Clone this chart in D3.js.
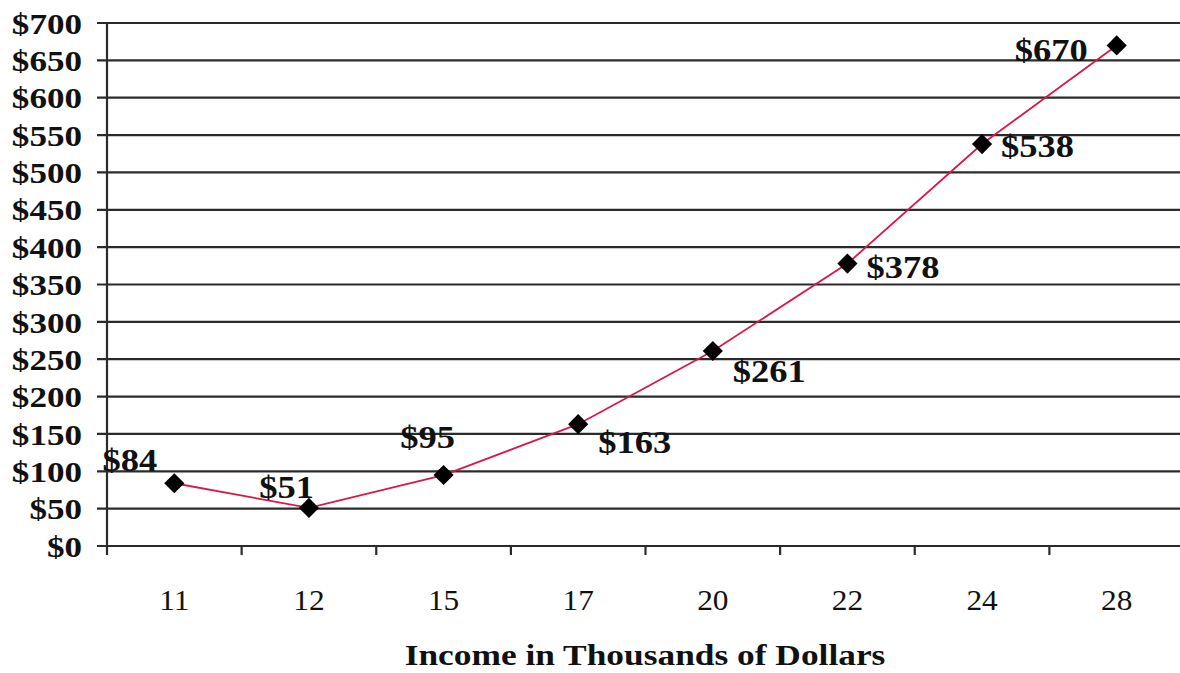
<!DOCTYPE html>
<html>
<head>
<meta charset="utf-8">
<script src="https://cdn.jsdelivr.net/npm/d3@7"></script>
<style>
	body{margin:0;background:#fff;}
	svg{display:block;}
	.axis text{font-family:"Liberation Serif","Times New Roman",serif;fill:#111;}
	.axis-y text{font-weight:bold;font-size:30px;}
	.axis-x text{font-size:29px;}
	.label{font-family:"Liberation Serif","Times New Roman",serif;font-weight:bold;font-size:32px;fill:#111;}
	.title{font-family:"Liberation Serif","Times New Roman",serif;font-weight:bold;font-size:29px;fill:#111;}
</style>
</head>
<body>
<div id="chart"></div>
<script>
// income (thousands of dollars) and the matching dollar amount
const incomes = ['11','12','15','17','20','22','24','28'];
const amounts = [84, 51, 95, 163, 261, 378, 538, 670];
const yTicks = [0,50,100,150,200,250,300,350,400,450,500,550,600,650,700];
const xTitle = 'Income in Thousands of Dollars';

const width = 1180;
const height = 673;
const margin = {t:23,r:-4,b:127,l:107};
const w = width - margin.l - margin.r;
const h = height - margin.t - margin.b;

//the original type is set wide; stretch glyphs horizontally
const stretch = 1.17;

// where each value label sits relative to its marker
const labelPlace = {
	'11':{dx:-17,dy:-12,anchor:'end'},
	'12':{dx:5,dy:-10,anchor:'end'},
	'15':{dx:-16,dy:-27,anchor:'middle'},
	'17':{dx:20,dy:29,anchor:'start'},
	'20':{dx:20,dy:31,anchor:'start'},
	'22':{dx:19,dy:14,anchor:'start'},
	'24':{dx:19,dy:13,anchor:'start'},
	'28':{dx:-29,dy:16,anchor:'end'}
};

const data = incomes.map((d,i) => ({income:d, amount:amounts[i]}));

const svg = d3.select('#chart').append('svg')
	.attr('width',width)
	.attr('height',height);

const plot = svg.append('g')
	.attr('transform',`translate(${margin.l},${margin.t})`);

const scaleX = d3.scaleBand().domain(incomes).range([0,w]).padding(0);
const scaleY = d3.scaleLinear().domain([0,700]).range([h,0]);

//gridlines, running a little left of the axis and off the right edge
plot.append('g')
	.attr('class','grid')
	.selectAll('line')
	.data(yTicks)
	.enter()
	.append('line')
	.attr('x1',-10)
	.attr('x2',width - margin.l)
	.attr('y1',d => scaleY(d))
	.attr('y2',d => scaleY(d))
	.style('stroke','#2b2b2b')
	.style('stroke-width',2.2);

//y axis labels
const axisY = d3.axisLeft()
	.scale(scaleY)
	.tickValues(yTicks)
	.tickSize(0)
	.tickPadding(25/stretch)
	.tickFormat(d => '$' + d);
const axisYNode = plot.append('g')
	.attr('class','axis axis-y')
	.call(axisY);
axisYNode.select('.domain').remove();
axisYNode.selectAll('text')
	.attr('dy','0.34em')
	.attr('transform',`scale(${stretch},1)`);

//vertical axis line
plot.append('line')
	.attr('x1',0).attr('x2',0)
	.attr('y1',scaleY(700)).attr('y2',h + 9)
	.style('stroke','#2b2b2b')
	.style('stroke-width',2.2);

//x axis: labels at band centres, ticks at band boundaries
const axisX = d3.axisBottom()
	.scale(scaleX)
	.tickSize(0)
	.tickPadding(43);
const axisXNode = plot.append('g')
	.attr('class','axis axis-x')
	.attr('transform',`translate(0,${h})`)
	.call(axisX);
axisXNode.select('.domain').remove();
axisXNode.selectAll('text').attr('transform','scale(1.08,1)');

plot.append('g')
	.attr('class','ticks-x')
	.selectAll('line')
	.data(incomes.slice(1))
	.enter()
	.append('line')
	.attr('x1',d => scaleX(d))
	.attr('x2',d => scaleX(d))
	.attr('y1',h)
	.attr('y2',h + 9)
	.style('stroke','#2b2b2b')
	.style('stroke-width',2.2);

//line
const line = d3.line()
	.x(d => scaleX(d.income) + scaleX.bandwidth()/2)
	.y(d => scaleY(d.amount));

plot.append('path')
	.datum(data)
	.attr('d',line)
	.style('fill','none')
	.style('stroke','#d81848')
	.style('stroke-width',1.8);

//diamond markers
const diamond = d3.symbol().type(d3.symbolDiamond2).size(260);
plot.selectAll('.marker')
	.data(data)
	.enter()
	.append('path')
	.attr('class','marker')
	.attr('d',diamond)
	.attr('transform',d => `translate(${scaleX(d.income) + scaleX.bandwidth()/2},${scaleY(d.amount)})`)
	.style('fill','#000');

//value labels
plot.selectAll('.label')
	.data(data)
	.enter()
	.append('text')
	.attr('class','label')
	.attr('transform',d => {
		const x = scaleX(d.income) + scaleX.bandwidth()/2 + labelPlace[d.income].dx;
		const y = scaleY(d.amount) + labelPlace[d.income].dy;
		return `translate(${x},${y}) scale(${stretch - 0.03},1)`;
	})
	.attr('text-anchor',d => labelPlace[d.income].anchor)
	.text(d => '$' + d.amount);

//axis title
svg.append('text')
	.attr('class','title')
	.attr('transform',`translate(645,665) scale(1.22,1)`)
	.attr('text-anchor','middle')
	.text(xTitle);
</script>
</body>
</html>
